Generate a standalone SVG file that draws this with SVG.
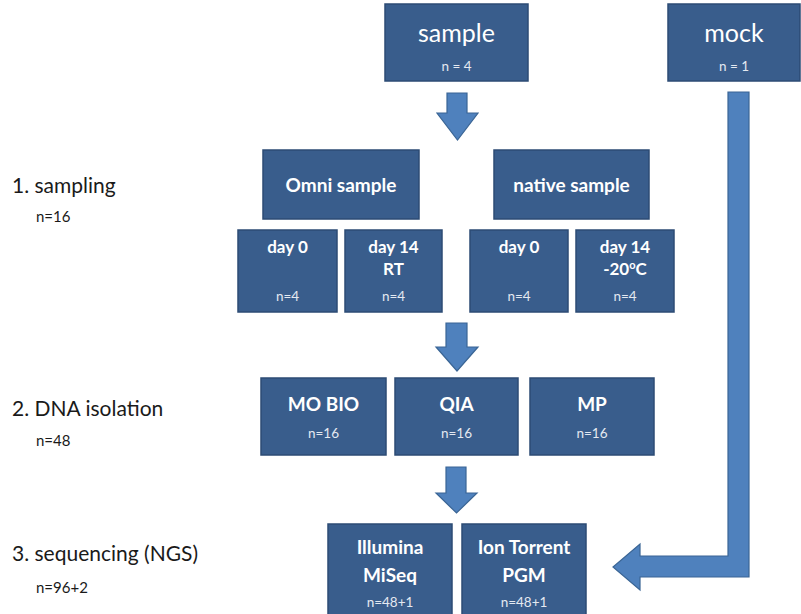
<svg xmlns="http://www.w3.org/2000/svg" width="801" height="614" viewBox="0 0 801 614">
<style>
.box{fill:#395D8C;stroke:#2C4B74;stroke-width:1.5}
.arr{fill:#4F81BD;stroke:#3A6595;stroke-width:1.2}
text{font-family:Lato,"Open Sans","Liberation Sans",sans-serif;fill:#FFFFFF;text-anchor:middle}
.big{font-size:25px}
.b{font-size:19px;font-weight:bold}
.d{font-size:17px;font-weight:bold}
.n{font-size:13.5px;fill:#E4E9F1}
.lab{fill:#1A1A1A;text-anchor:start;font-size:21px}
.labn{fill:#1A1A1A;text-anchor:start;font-size:15px}
</style>
<rect width="801" height="614" fill="#FFFFFF"/>
<g id="labels">
<text class="lab" x="12" y="193">1. sampling</text>
<text class="labn" x="36" y="222">n=16</text>
<text class="lab" x="12" y="416">2. DNA isolation</text>
<text class="labn" x="36" y="446">n=48</text>
<text class="lab" x="12" y="561">3. sequencing (NGS)</text>
<text class="labn" x="36" y="593">n=96+2</text>
</g>
<g id="connectors">
<path class="arr" d="M447,93 H467 V113 H478 L457.5,140 L437,113 H447 Z"/>
<path class="arr" d="M446,323 H467 V347 H478 L457,371 L436,347 H446 Z"/>
<path class="arr" d="M446,467 H466 V493 H477 L456.5,513 L436,493 H446 Z"/>
<path class="arr" d="M728,92 H749 V577 H640 V590 L613,567 L640,544 V556 H728 Z"/>
</g>
<g id="sample">
<rect class="box" x="385" y="4" width="143" height="77"/>
<text class="big" x="456.5" y="42">sample</text>
<text class="n" x="456.5" y="71">n = 4</text>
</g>
<g id="mock">
<rect class="box" x="668" y="4" width="132" height="77"/>
<text class="big" x="734" y="42">mock</text>
<text class="n" x="734" y="71">n = 1</text>
</g>
<g id="omni">
<rect class="box" x="263" y="150" width="156" height="69"/>
<text class="b" x="341" y="192">Omni sample</text>
</g>
<g id="native">
<rect class="box" x="494" y="150" width="155" height="69"/>
<text class="b" x="571.5" y="192">native sample</text>
</g>
<g id="omni-day0">
<rect class="box" x="238" y="230" width="99" height="82"/>
<text class="d" x="287.5" y="253">day 0</text>
<text class="n" x="287.5" y="301">n=4</text>
</g>
<g id="omni-day14">
<rect class="box" x="345" y="230" width="97" height="82"/>
<text class="d" x="393.5" y="253">day 14</text>
<text class="d" x="393.5" y="275">RT</text>
<text class="n" x="393.5" y="301">n=4</text>
</g>
<g id="native-day0">
<rect class="box" x="470" y="230" width="98" height="82"/>
<text class="d" x="519" y="253">day 0</text>
<text class="n" x="519" y="301">n=4</text>
</g>
<g id="native-day14">
<rect class="box" x="576" y="230" width="98" height="82"/>
<text class="d" x="625" y="253">day 14</text>
<text class="d" x="625" y="275">-20<tspan font-size="11" dy="-6">o</tspan><tspan dy="6">C</tspan></text>
<text class="n" x="625" y="301">n=4</text>
</g>
<g id="mobio">
<rect class="box" x="261" y="378" width="125" height="77"/>
<text class="b" x="323.5" y="411">MO BIO</text>
<text class="n" x="323.5" y="438">n=16</text>
</g>
<g id="qia">
<rect class="box" x="395" y="378" width="123" height="77"/>
<text class="b" x="456.5" y="411">QIA</text>
<text class="n" x="456.5" y="438">n=16</text>
</g>
<g id="mp">
<rect class="box" x="530" y="378" width="124" height="77"/>
<text class="b" x="592" y="411">MP</text>
<text class="n" x="592" y="438">n=16</text>
</g>
<g id="illumina">
<rect class="box" x="328" y="524" width="124" height="100"/>
<text class="b" x="390" y="554">Illumina</text>
<text class="b" x="390" y="582">MiSeq</text>
<text class="n" x="390" y="607">n=48+1</text>
</g>
<g id="iontorrent">
<rect class="box" x="462" y="524" width="124" height="100"/>
<text class="b" x="524" y="554">Ion Torrent</text>
<text class="b" x="524" y="582">PGM</text>
<text class="n" x="524" y="607">n=48+1</text>
</g>
</svg>
